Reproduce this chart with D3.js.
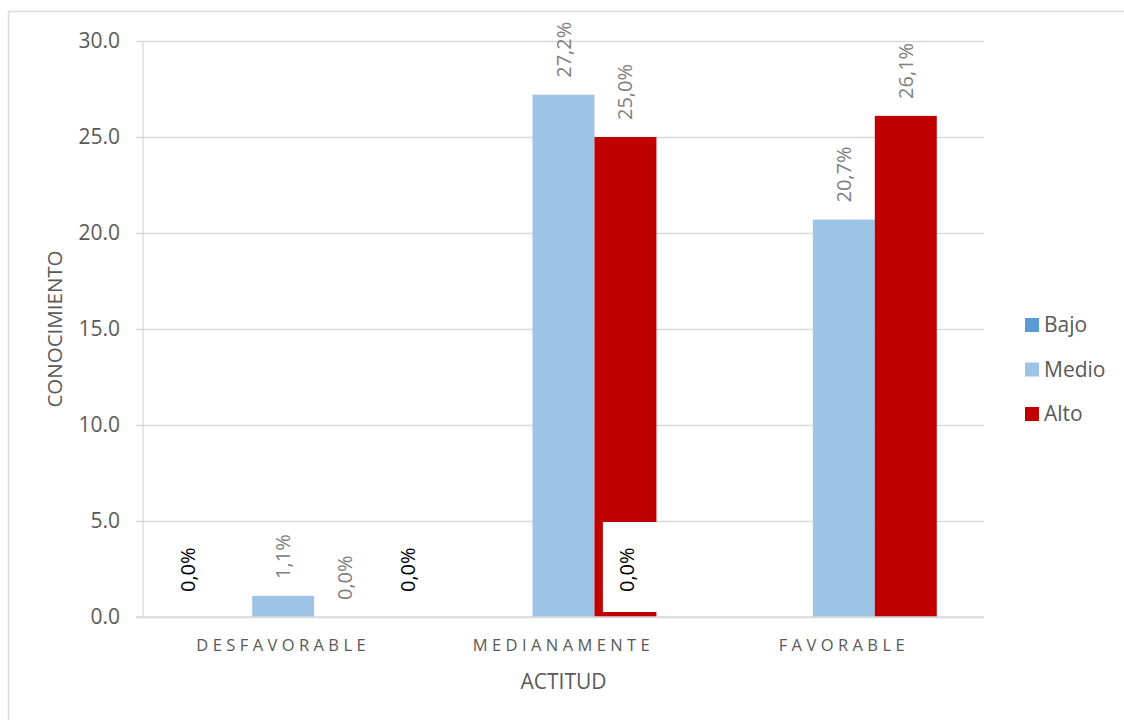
<!DOCTYPE html>
<html>
<head>
<meta charset="utf-8">
<script src="https://cdn.jsdelivr.net/npm/d3@7"></script>
<style>
  html, body { margin: 0; padding: 0; background: #fff; }
  svg { display: block; font-family: "Open Sans", "Liberation Sans", sans-serif; }
</style>
</head>
<body>
<svg id="chart" width="1124" height="720"></svg>
<script>
// Categories (x axis) and series
const categories = ["DESFAVORABLE", "MEDIANAMENTE", "FAVORABLE"];
const seriesNames = ["Bajo", "Medio", "Alto"];
const bajo  = [0.0, 0.0, 0.0];
const medio = [1.1, 27.2, 20.7];
const alto  = [0.0, 25.0, 26.1];
const yTicks = [0, 5, 10, 15, 20, 25, 30];
const seriesColors = ["#5b9bd5", "#9dc3e6", "#c00000"];

const seriesValues = { Bajo: bajo, Medio: medio, Alto: alto };

const svg = d3.select("#chart");
const W = 1124, H = 720;
const plot = { left: 143, right: 984, top: 41, bottom: 617 };

// outer chart frame
svg.append("rect")
  .attr("x", 8.5).attr("y", 11.5)
  .attr("width", W + 10).attr("height", H + 10)
  .attr("fill", "#fff").attr("stroke", "#d9d9d9").attr("stroke-width", 1.5);

const x0 = d3.scaleBand().domain(categories).range([plot.left, plot.right]).padding(0);
const groupW = x0.bandwidth() * 0.663;
const x1 = d3.scaleBand().domain(seriesNames)
  .range([(x0.bandwidth() - groupW) / 2, (x0.bandwidth() + groupW) / 2]).padding(0);
const y = d3.scaleLinear().domain([0, 30]).range([plot.bottom, plot.top]);

const fmt = v => v.toFixed(1).replace(".", ",") + "%";

// horizontal gridlines + y axis
const yAxis = d3.axisLeft(y).tickValues(yTicks).tickFormat(d3.format(".1f"))
  .tickSize(-(plot.right - plot.left)).tickPadding(23);
const gy = svg.append("g").attr("transform", `translate(${plot.left},0)`).call(yAxis);
gy.select(".domain").remove();
gy.selectAll(".tick line").attr("stroke", "#d9d9d9").attr("stroke-width", 1.3)
  .attr("x1", -7);
gy.selectAll(".tick text").attr("fill", "#595959").style("font-size", "21px")
  .style("font-family", "'Open Sans', sans-serif");

// vertical axis line
svg.append("line")
  .attr("x1", plot.left).attr("x2", plot.left)
  .attr("y1", y(30)).attr("y2", y(0))
  .attr("stroke", "#d9d9d9").attr("stroke-width", 1.3);

// bars
const rows = [];
categories.forEach((c, i) => {
  seriesNames.forEach((s, j) => {
    rows.push({ cat: c, series: s, value: seriesValues[s][i], color: seriesColors[j], ci: i });
  });
});

svg.append("g").selectAll("rect").data(rows.filter(d => d.value > 0)).join("rect")
  .attr("x", d => x0(d.cat) + x1(d.series))
  .attr("y", d => y(d.value))
  .attr("width", x1.bandwidth())
  .attr("height", d => y(0) - y(d.value))
  .attr("fill", d => d.color);

// baseline over bars
svg.append("line")
  .attr("x1", plot.left - 7).attr("x2", plot.right)
  .attr("y1", y(0)).attr("y2", y(0))
  .attr("stroke", "#d9d9d9").attr("stroke-width", 1.5);

const barCenter = d => x0(d.cat) + x1(d.series) + x1.bandwidth() / 2;

// value labels for Medio / Alto (rotated, grey)
svg.append("g").selectAll("text")
  .data(rows.filter(d => d.series !== "Bajo")).join("text")
  .attr("transform", d => `translate(${barCenter(d)},${y(d.value) - 17}) rotate(-90)`)
  .attr("dy", "0.35em")
  .attr("text-anchor", "start")
  .attr("fill", "#808080")
  .style("font-size", "20px")
  .text(d => fmt(d.value));

// Bajo labels (black), shifted left of their slots
const bajoRows = rows.filter(d => d.series === "Bajo");
const bajoShift = [-33, -94, -155];
const bajoX = d => barCenter(d) + bajoShift[d.ci];

// white background behind the last Bajo label
const lastBajo = bajoRows[bajoRows.length - 1];
svg.append("rect")
  .attr("x", bajoX(lastBajo) - 24)
  .attr("y", y(0) - 95)
  .attr("width", 55)
  .attr("height", 90)
  .attr("fill", "#fff");

svg.append("g").selectAll("text").data(bajoRows).join("text")
  .attr("transform", d => `translate(${bajoX(d)},${y(d.value) - 25}) rotate(-90)`)
  .attr("dy", "0.35em")
  .attr("text-anchor", "start")
  .attr("fill", "#000")
  .style("font-size", "20px")
  .text(d => fmt(d.value));

// category labels
svg.append("g").selectAll("text").data(categories).join("text")
  .attr("x", d => x0(d) + x0.bandwidth() / 2)
  .attr("y", 651)
  .attr("text-anchor", "middle")
  .attr("fill", "#595959")
  .style("font-size", "16.5px")
  .style("letter-spacing", "4.4px")
  .text(d => d);

// axis titles
svg.append("text")
  .attr("x", (plot.left + plot.right) / 2).attr("y", 689)
  .attr("text-anchor", "middle").attr("fill", "#595959")
  .style("font-size", "21px").text("ACTITUD");

svg.append("text")
  .attr("transform", `translate(62,${(plot.top + plot.bottom) / 2}) rotate(-90)`)
  .attr("text-anchor", "middle").attr("fill", "#595959")
  .style("font-size", "20.5px").text("CONOCIMIENTO");

// legend
const legend = svg.append("g").selectAll("g").data(seriesNames).join("g")
  .attr("transform", (d, i) => `translate(1025,${325 + i * 44.5})`);
legend.append("rect")
  .attr("x", 0).attr("y", -7).attr("width", 14).attr("height", 14)
  .attr("fill", (d, i) => seriesColors[i]);
legend.append("text")
  .attr("x", 19).attr("y", 0).attr("dy", "0.35em")
  .attr("fill", "#595959").style("font-size", "21px")
  .text(d => d);
</script>
</body>
</html>
